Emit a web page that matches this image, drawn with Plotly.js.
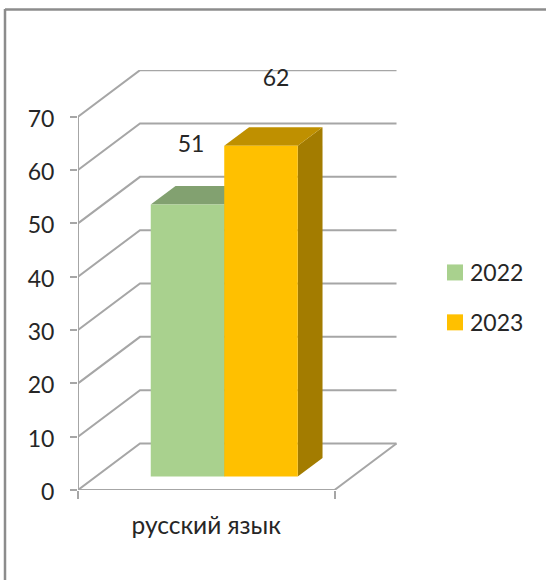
<!DOCTYPE html>
<html><head><meta charset="utf-8">
<script src="https://cdn.plot.ly/plotly-3.0.1.min.js"></script>
<style>html,body{margin:0;padding:0;background:#fff;overflow:hidden}</style>
</head><body><div id="chart" style="width:546px;height:580px"></div>
<script>
const categories = ['русский язык'];
const seriesNames = ['2022', '2023'];
const values2022 = [51];
const values2023 = [62];
const yTicks = [0, 10, 20, 30, 40, 50, 60, 70];
const frontColors = ['#A9D18E', '#FFC000'];
const topColors = ['#82A170', '#BF9000'];
const sideColors = ['#7F9D6B', '#A37C00'];
const gridColor = '#A6A6A6';
const textColor = '#262626';
const fontFamily = 'Lato, "Open Sans", sans-serif';
const fontSize = 23;
const categoryFontSize = 24.5;

// oblique projection: depth 0..1 shifts a point right and up
const depthX = 0.2417, depthY = 8.72;
const barW = 0.2865, barDepth0 = 0.29, barDepth1 = 0.69;
const px = (x, d) => x + d * depthX;
const py = (y, d) => y + d * depthY;
const W = 546, H = 580, L = 78, R = 148, T = 70, B = 90;
const xRange = [-0.5, 0.7475], yRange = [0, 78.75];

const traces = [];
// walls and floor lines
const gx = [], gy = [];
yTicks.forEach(v => {
  gx.push(px(-0.5, 0), px(-0.5, 1), px(0.5, 1), null);
  gy.push(py(v, 0), py(v, 1), py(v, 1), null);
});
gx.push(px(-0.5, 0), px(-0.5, 0), null);
gy.push(0, 70, null);
gx.push(px(-0.5, 0), px(0.5, 0), px(0.5, 1));
gy.push(0, 0, py(0, 1));
traces.push({type:'scatter', mode:'lines', x:gx, y:gy, line:{color:gridColor, width:2}, hoverinfo:'skip', showlegend:false, cliponaxis:false});

function face(xs, ys, color) {
  traces.push({type:'scatter', mode:'lines', x:xs, y:ys, fill:'toself', fillcolor:color,
    line:{width:0, color:color}, hoverinfo:'skip', showlegend:false});
}
[values2022, values2023].forEach((vals, s) => {
  const v = vals[0];
  const x0 = -barW + s * barW, x1 = x0 + barW;
  face([px(x1,barDepth0), px(x1,barDepth1), px(x1,barDepth1), px(x1,barDepth0)],
       [py(0,barDepth0), py(0,barDepth1), py(v,barDepth1), py(v,barDepth0)], sideColors[s]);
  face([px(x0,barDepth0), px(x0,barDepth1), px(x1,barDepth1), px(x1,barDepth0)],
       [py(v,barDepth0), py(v,barDepth1), py(v,barDepth1), py(v,barDepth0)], topColors[s]);
  face([px(x0,barDepth0), px(x1,barDepth0), px(x1,barDepth0), px(x0,barDepth0)],
       [py(0,barDepth0), py(0,barDepth0), py(v,barDepth0), py(v,barDepth0)], frontColors[s]);
});
// value labels
const labelShiftX = [0.014, 0.059], labelLift = [13.5, 14.8];
[values2022, values2023].forEach((vals, s) => {
  const x0 = -barW + s * barW;
  traces.push({type:'scatter', mode:'text', x:[px(x0 + barW/2, barDepth0) + labelShiftX[s]], y:[vals[0] + labelLift[s]],
    text:[String(vals[0])], textposition:'middle center', textfont:{family:fontFamily, size:fontSize, color:textColor},
    hoverinfo:'skip', showlegend:false, cliponaxis:false});
});
// legend entries
seriesNames.forEach((n, s) => {
  traces.push({type:'scatter', mode:'markers', x:[null], y:[null], name:n, legendgroup:n,
    marker:{symbol:'square', size:16, color:frontColors[s]}});
});

const fx = p => (p - L) / (W - L - R);
const fy = p => (H - B - p) / (H - T - B);
const layout = {
  width:W, height:H, margin:{l:L, r:R, t:T, b:B},
  paper_bgcolor:'#fff', plot_bgcolor:'rgba(0,0,0,0)',
  font:{family:fontFamily, size:fontSize, color:textColor},
  xaxis:{type:'linear', range:xRange, tickmode:'array', tickvals:[0], ticktext:categories,
    ticks:'outside', ticklen:1, tickcolor:'rgba(0,0,0,0)', ticklabelstandoff:13, showgrid:false, zeroline:false, showline:false,
    tickfont:{family:fontFamily, size:categoryFontSize, color:textColor},
    minor:{tickmode:'array', tickvals:[-0.5, 0.5], ticks:'outside', ticklen:8, tickwidth:2, tickcolor:gridColor, showgrid:false}},
  yaxis:{range:yRange, tickmode:'array', tickvals:yTicks, ticks:'outside', ticklen:7, tickwidth:2, tickcolor:gridColor,
    ticklabelstandoff:11, ticklabelshift:2,
    showgrid:false, zeroline:false, showline:false, tickfont:{family:fontFamily, size:fontSize, color:textColor}},
  legend:{x:fx(435), xanchor:'left', y:fy(251), yanchor:'top', tracegroupgap:17, bgcolor:'rgba(0,0,0,0)',
    entrywidth:50, entrywidthmode:'pixels',
    font:{family:fontFamily, size:fontSize, color:textColor}, itemclick:false, itemdoubleclick:false},
  showlegend:true,
  shapes:[
    {type:'line', xref:'paper', yref:'paper', x0:fx(5), x1:fx(546), y0:fy(9.5), y1:fy(9.5), line:{color:'#8C8C8C', width:2.5}},
    {type:'line', xref:'paper', yref:'paper', x0:fx(5), x1:fx(5), y0:fy(9), y1:fy(580), line:{color:'#8C8C8C', width:2.5}}
  ]
};
const tightenLegend = () => document.querySelectorAll('.legendtext').forEach(t => {
  if (!t.dataset.moved) { t.setAttribute('x', parseFloat(t.getAttribute('x')) - 5); t.dataset.moved = '1'; }
});
Plotly.newPlot('chart', traces, layout, {displayModeBar:false}).then(tightenLegend);
</script></body></html>
